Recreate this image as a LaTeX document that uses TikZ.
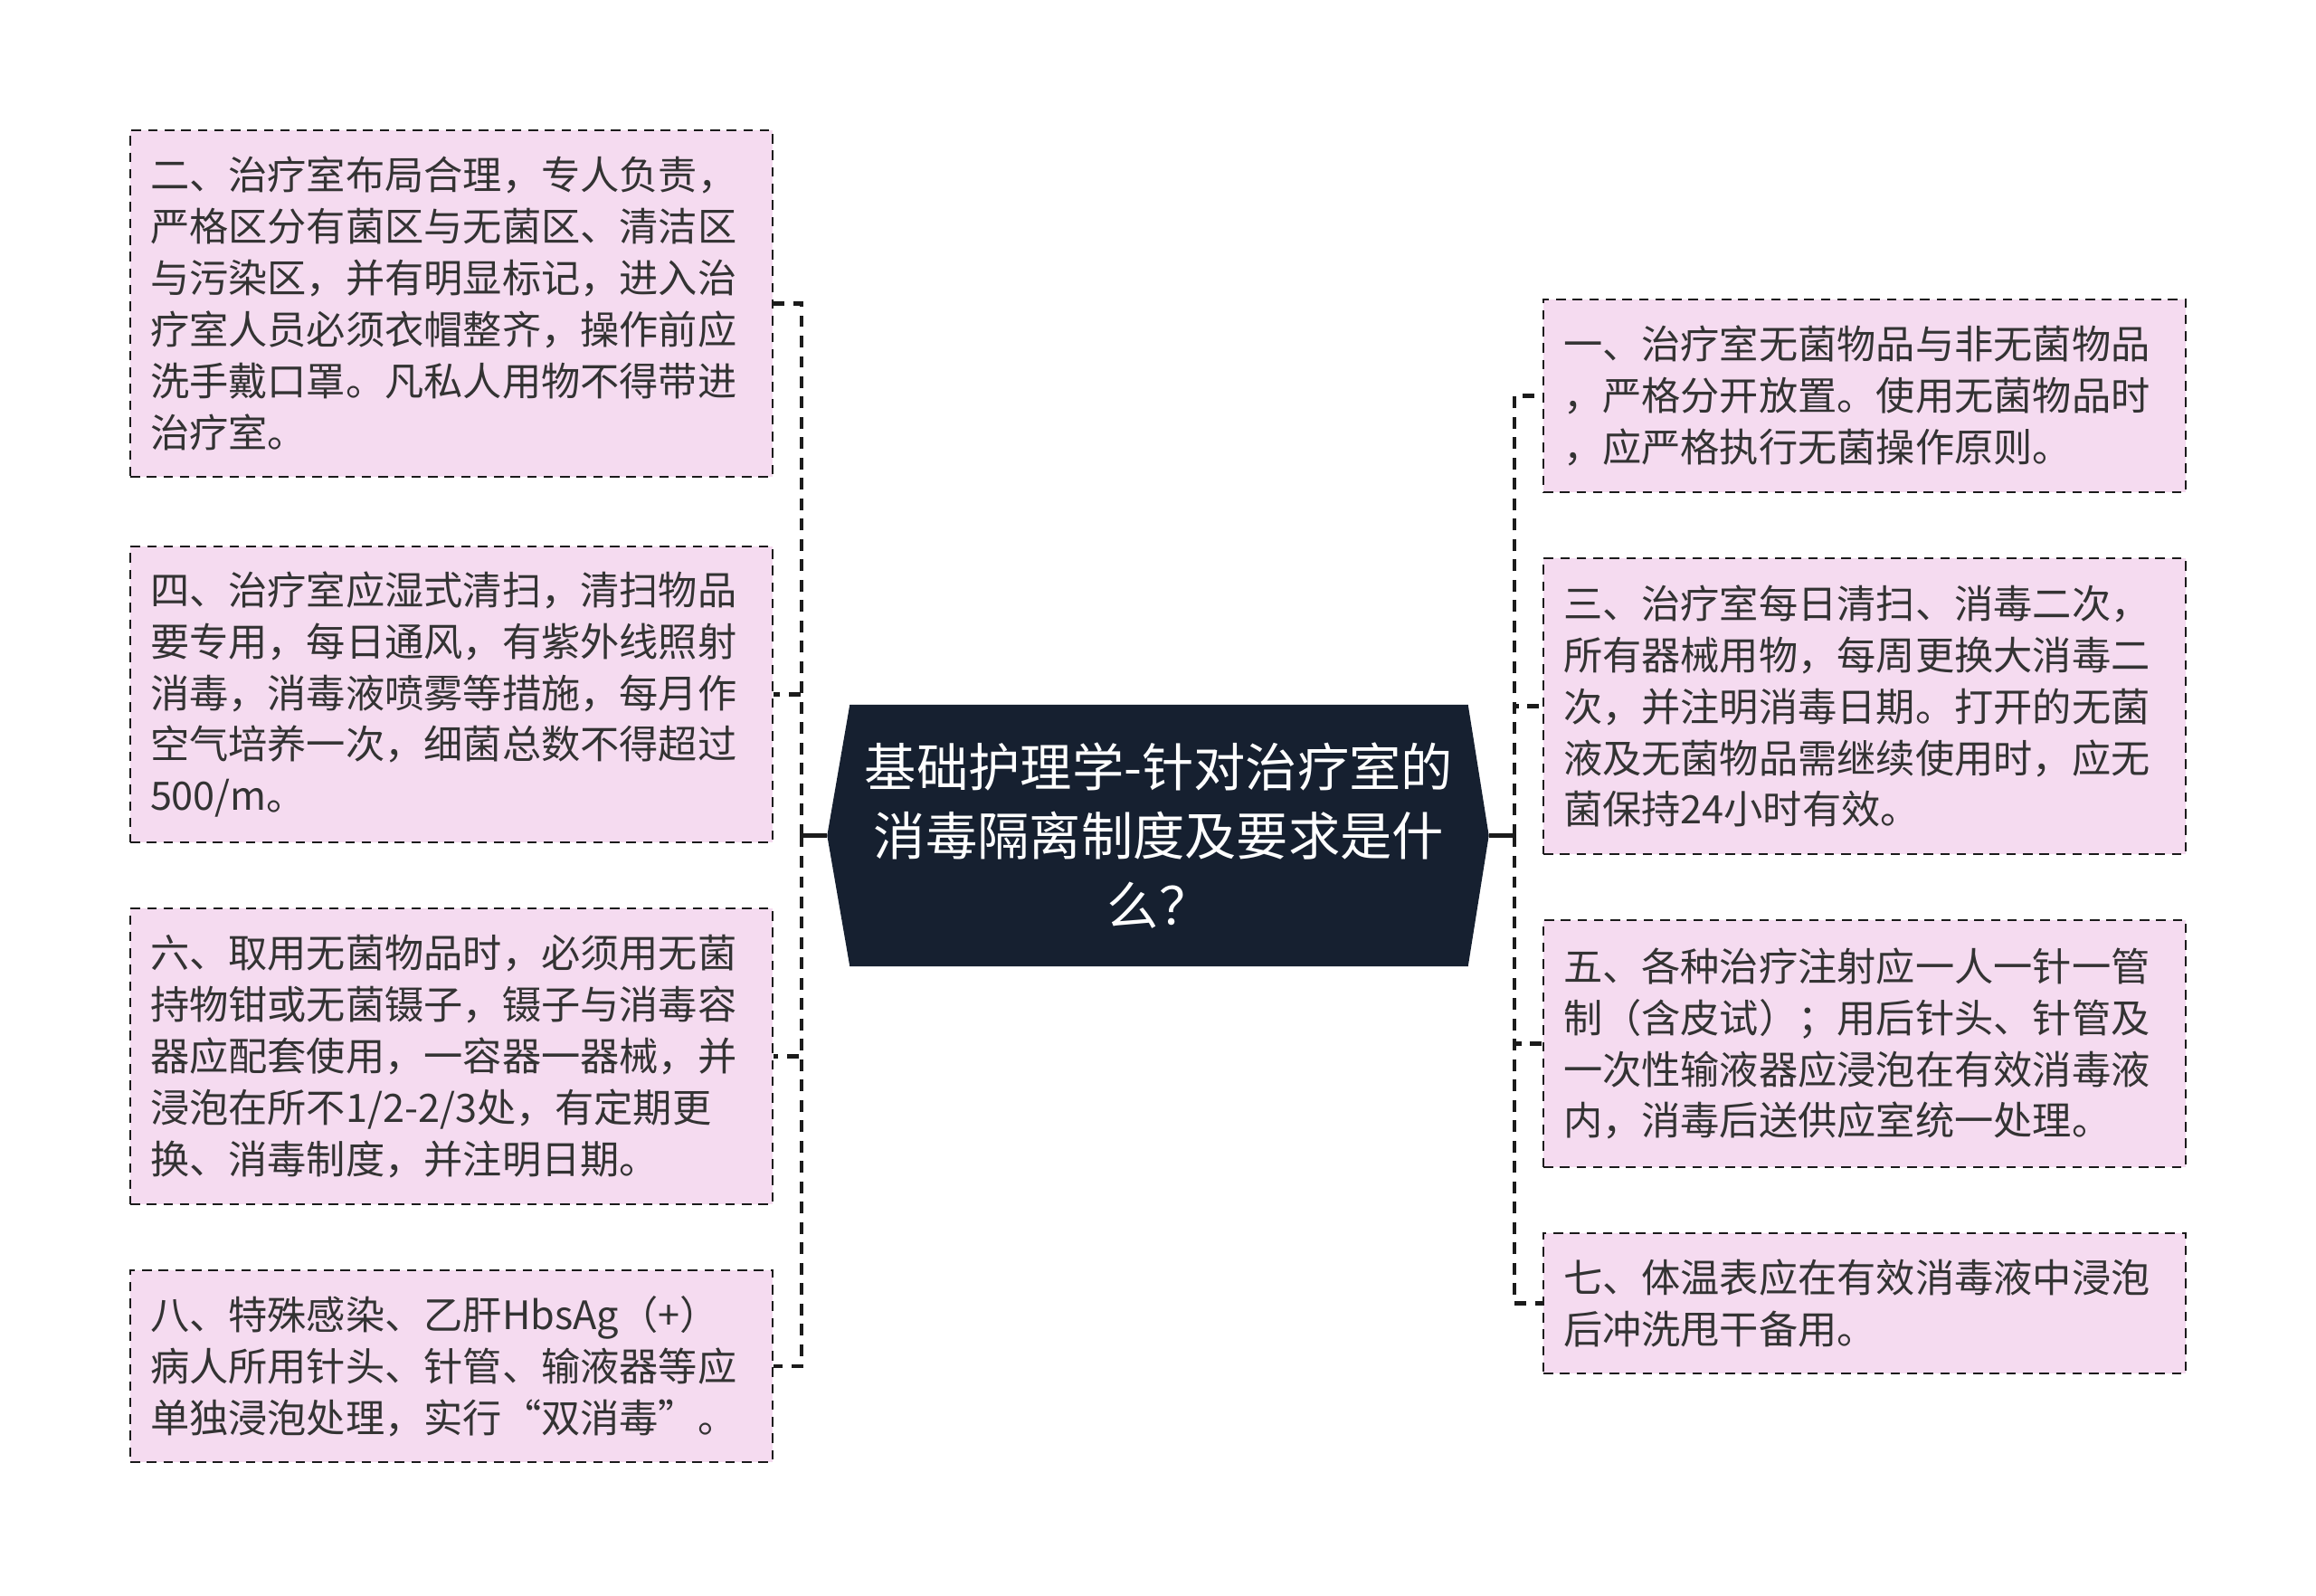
\documentclass[tikz,border=0pt]{standalone}
\usepackage{fontspec}
\setmainfont{Noto Sans CJK SC}
\usetikzlibrary{backgrounds}
\definecolor{itempink}{RGB}{245,219,240}
\definecolor{rootnavy}{RGB}{22,32,48}
\definecolor{itemtext}{RGB}{51,51,51}
\definecolor{linedark}{RGB}{27,27,27}
\tikzset{
  item/.style={draw=linedark, fill=itempink, line width=0.8pt,
    dash pattern=on 3pt off 2.2pt, text=itemtext, align=left,
    text width=6.66cm, inner xsep=0.22cm, inner ysep=0pt,
    font=\fontsize{12.3}{16.2}\selectfont},
  root/.style={text=white, align=center, minimum width=6.82cm,
    minimum height=2.88cm, inner sep=0pt,
    font=\fontsize{16.3}{21.8}\selectfont},
  link/.style={draw=linedark, line width=1.3pt, dash pattern=on 3.6pt off 2.8pt},
  stub/.style={draw=linedark, line width=1.3pt}
}
\begin{document}
\begin{tikzpicture}
    \useasboundingbox (0,0) rectangle (25.6,-17.63);

    % 中心
    \node[root] (hub) at (12.81,-9.235) {基础护理学-针对治疗室的\\消毒隔离制度及要求是什\\么？};
    \begin{scope}[on background layer]
        \fill[rootnavy] (hub.north west) -- (hub.north east) -- ([xshift=0.23cm]hub.east)
            -- (hub.south east) -- (hub.south west) -- ([xshift=-0.25cm]hub.west) -- cycle;
    \end{scope}
    \coordinate (lhub) at ([xshift=-0.25cm]hub.west);
    \coordinate (rhub) at ([xshift=0.23cm]hub.east);
    \coordinate (lbus) at (8.86,-9.235);
    \coordinate (rbus) at (16.74,-9.235);

    % 左側
    \node[item, minimum height=3.83cm] (n2) at (4.99,-3.355) {二、治疗室布局合理，专人负责，\\严格区分有菌区与无菌区、清洁区\\与污染区，并有明显标记，进入治\\疗室人员必须衣帽整齐，操作前应\\洗手戴口罩。凡私人用物不得带进\\治疗室。};
    \node[item, minimum height=3.27cm] (n4) at (4.99,-7.675) {四、治疗室应湿式清扫，清扫物品\\要专用，每日通风，有紫外线照射\\消毒，消毒液喷雾等措施，每月作\\空气培养一次，细菌总数不得超过\\500/m。};
    \node[item, minimum height=3.27cm] (n6) at (4.99,-11.675) {六、取用无菌物品时，必须用无菌\\持物钳或无菌镊子，镊子与消毒容\\器应配套使用，一容器一器械，并\\浸泡在所不1/2-2/3处，有定期更\\换、消毒制度，并注明日期。};
    \node[item, minimum height=2.12cm] (n8) at (4.99,-15.10) {八、特殊感染、乙肝HbsAg（+）\\病人所用针头、针管、输液器等应\\单独浸泡处理，实行“双消毒”。};

    % 右側
    \node[item, minimum height=2.13cm] (n1) at (20.61,-4.375) {一、治疗室无菌物品与非无菌物品\\，严格分开放置。使用无菌物品时\\，应严格执行无菌操作原则。};
    \node[item, minimum height=3.27cm] (n3) at (20.61,-7.805) {三、治疗室每日清扫、消毒二次，\\所有器械用物，每周更换大消毒二\\次，并注明消毒日期。打开的无菌\\液及无菌物品需继续使用时，应无\\菌保持24小时有效。};
    \node[item, minimum height=2.73cm] (n5) at (20.61,-11.535) {五、各种治疗注射应一人一针一管\\制（含皮试）；用后针头、针管及\\一次性输液器应浸泡在有效消毒液\\内，消毒后送供应室统一处理。};
    \node[item, minimum height=1.55cm] (n7) at (20.61,-14.405) {七、体温表应在有效消毒液中浸泡\\后冲洗甩干备用。};

    % 接続線
    \draw[stub] (lhub) -- (lbus);
    \draw[stub] (rhub) -- (rbus);
    \foreach \n in {n2,n4,n6,n8} {
        \draw[link] (lbus) |- (\n.east);
    }
    \foreach \n in {n1,n3,n5,n7} {
        \draw[link] (rbus) |- (\n.west);
    }
\end{tikzpicture}
\end{document}
